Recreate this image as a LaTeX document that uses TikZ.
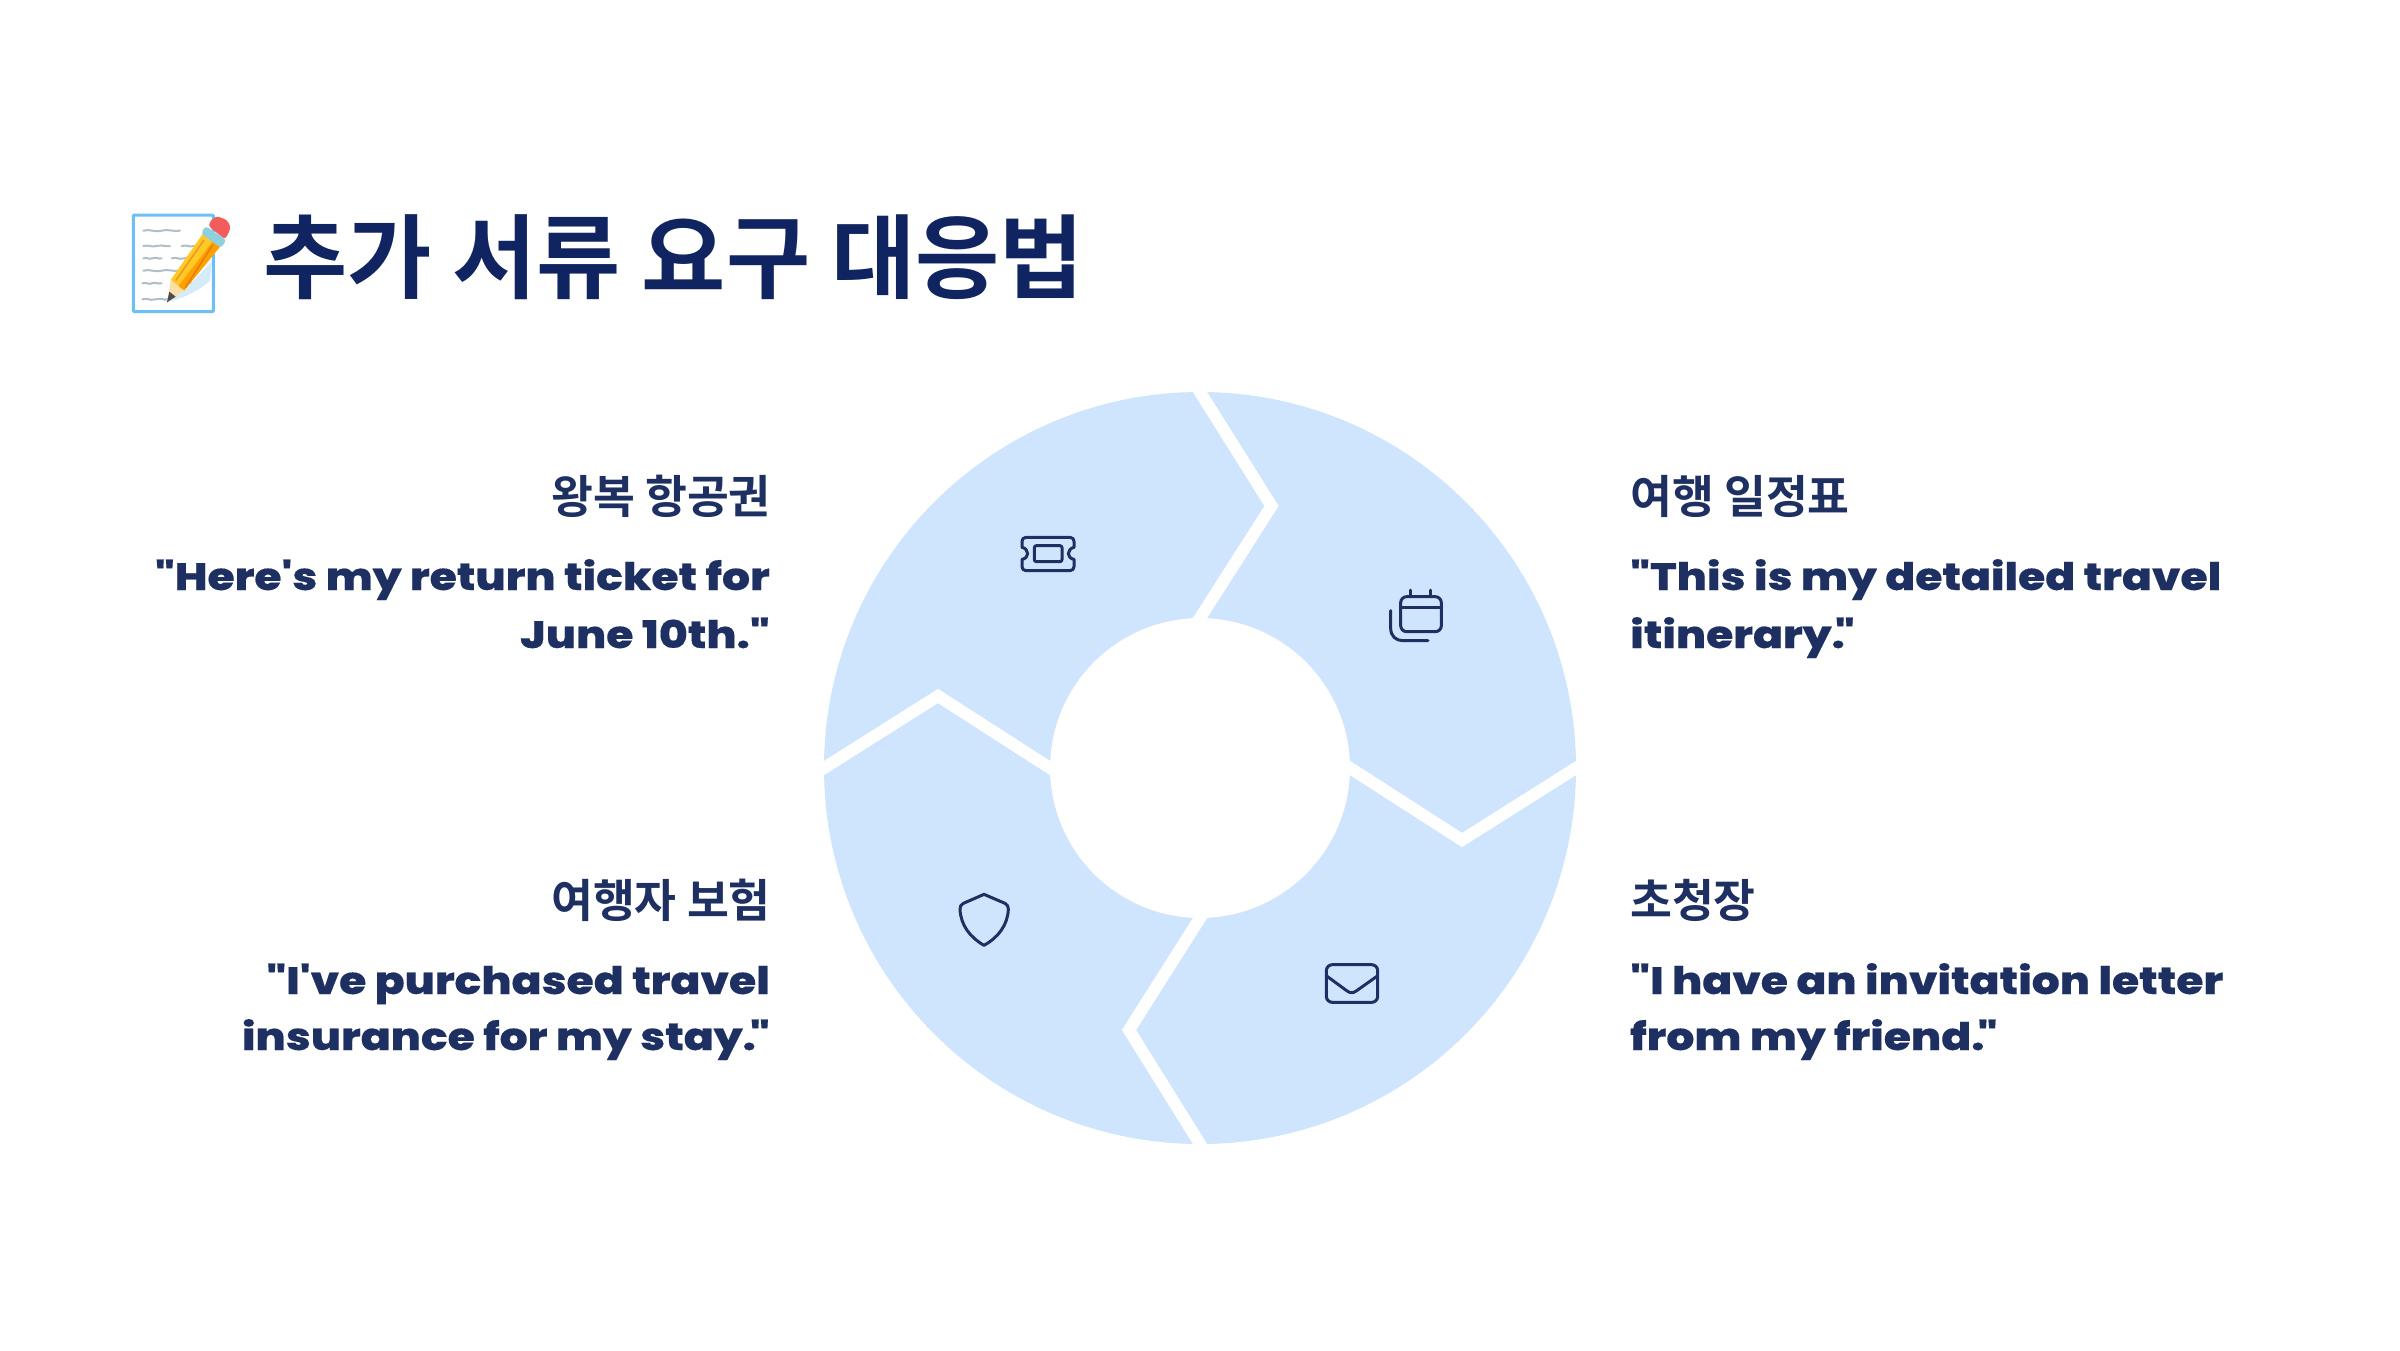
\documentclass[tikz,border=0pt]{standalone}
\usepackage{fontspec}
\newfontfamily\krh[UprightFont=* Bold]{Noto Sans CJK KR}
\newfontfamily\en[UprightFont=* ExtraBold,FakeStretch=1.16,FakeBold=0.3]{Poppins}
\definecolor{ring}{HTML}{CFE5FD}
\definecolor{ink}{HTML}{1E3062}
\definecolor{titleink}{HTML}{0F2460}
\tikzset{
  x=1pt,y=-1pt,
  head/.style={font=\krh\fontsize{45.5}{45.5}\selectfont,text=ink,inner sep=0pt},
  quoteL/.style={font=\en\fontsize{38}{38}\selectfont,text=ink,inner sep=0pt,anchor=base east},
  quoteR/.style={font=\en\fontsize{38}{38}\selectfont,text=ink,inner sep=0pt,anchor=base west},
  gap/.style={draw=white,line width=12pt,miter limit=10},
  icon/.style={draw=ink,line width=3pt,line cap=round,line join=round}
}
\begin{document}
\begin{tikzpicture}
\useasboundingbox (0,0) rectangle (2400,1350);
\fill[white] (0,0) rectangle (2400,1350);
% ring
\fill[ring,even odd rule] (1200,768) circle[radius=376] (1200,768) circle[radius=150];
\draw[gap] (1190,376) -- (1200,392) -- (1271.5,506) -- (1200,618) -- (1190,633);
\draw[gap] (808,778) -- (824,768) -- (938,696) -- (1050,768) -- (1066,778);
\draw[gap] (1334,758) -- (1350,768) -- (1462,840) -- (1576,768) -- (1592,758);
\draw[gap] (1210,903) -- (1200,918) -- (1129,1030) -- (1200,1144) -- (1210,1160);
% memo emoji
\begin{scope}[shift={(110,190)},x=1/3*1pt,y=-1/3*1pt]
\draw[draw={rgb,255:red,108;green,192;blue,245},line width=3pt,rounded corners=1pt,fill=white] (70,75) rectangle (310,365);
\foreach \a/\b/\c in {100/210/122,100/180/168,215/290/168,100/155/205,185/260/205,100/210/242,97/155/280,230/280/280,97/175/328}{
  \draw[color={rgb,255:red,176;green,190;blue,197},line width=2pt,line cap=round]
    (\a,\c) .. controls ({\a+(\b-\a)/4},{\c-5}) and ({\a+(\b-\a)/4},{\c+5}) .. ({(\a+\b)/2},\c) .. controls ({\b-(\b-\a)/4},{\c-5}) and ({\b-(\b-\a)/4},{\c+3}) .. (\b,\c);}
\fill[color={rgb,255:red,213;green,235;blue,250}] (305,215) -- (300,272) .. controls (270,300) and (220,325) .. (175,335) -- (222,302) -- cycle;
\fill[color={rgb,255:red,255;green,202;blue,40}] (278,132) -- (330,170) -- (222,302) -- (182,270) -- cycle;
\fill[color={rgb,255:red,255;green,160;blue,0}] (308,155) -- (330,170) -- (222,302) -- (205,288) -- cycle;
\draw[color={rgb,255:red,240;green,150;blue,30},line width=1.5pt] (282,150) -- (197,272);
\draw[color={rgb,255:red,225;green,125;blue,20},line width=1.5pt] (308,165) -- (226,293);
\fill[color={rgb,255:red,250;green,224;blue,168}] (182,270) -- (222,302) -- (172,336) -- cycle;
\fill[color={rgb,255:red,78;green,78;blue,78}] (178,305) -- (197,320) -- (171,337) -- cycle;
\fill[color={rgb,255:red,242;green,92;blue,92},rounded corners=3pt] (295,108) .. controls (305,85) and (320,78) .. (335,84) .. controls (352,90) and (362,105) .. (358,125) -- (345,148) -- cycle;
\fill[color={rgb,255:red,142;green,208;blue,224},rounded corners=3pt] (287,108) -- (349,150) -- (333,174) -- (273,130) -- cycle;
\end{scope}
% title
\node[font=\krh\fontsize{91.6}{91.6}\selectfont,text=titleink,inner sep=0pt,anchor=base west] (title) at (263,291) {추가 서류 요구 대응법};
% left labels
\node[head,anchor=base east] (h1) at (771,513) {왕복 항공권};
\node[quoteL] (q1a) at (770,590) {"Here's my return ticket for};
\node[quoteL] (q1b) at (770,648) {June 10th."};
\node[head,anchor=base east] (h2) at (771,917) {여행자 보험};
\node[quoteL] (q2a) at (770,994) {"I've purchased travel};
\node[quoteL] (q2b) at (770,1050) {insurance for my stay.\kern-6pt"};
% right labels
\node[head,anchor=base west] (h3) at (1630,513) {여행 일정표};
\node[quoteR] (q3a) at (1630,590) {"This is my detailed travel};
\node[quoteR] (q3b) at (1630,648) {itinerary.\kern-10pt"};
\node[head,anchor=base west] (h4) at (1630,917) {초청장};
\node[quoteR] (q4a) at (1630,994) {"I have an invitation letter};
\node[quoteR] (q4b) at (1630,1050) {from my friend.\kern-7pt"};
% ticket
\begin{scope}[shift={(1000,510)},x=1/3*1pt,y=-1/3*1pt]
\draw[icon] (78,82) -- (210,82) .. controls (218,82) and (222,88) .. (222,94) -- (222,112) .. controls (212,114) and (205,122) .. (205,131) .. controls (205,140) and (212,146) .. (222,148) -- (222,170) .. controls (222,176) and (218,182) .. (210,182) -- (78,182) .. controls (70,182) and (66,176) .. (66,170) -- (66,148) .. controls (76,146) and (83,140) .. (83,131) .. controls (83,122) and (76,114) .. (66,112) -- (66,94) .. controls (66,88) and (70,82) .. (78,82) -- cycle;
\draw[icon,rounded corners=2pt] (103,107) rectangle (186,155);
\end{scope}
% calendar
\begin{scope}[shift={(1370,570)},x=1/3*1pt,y=-1/3*1pt]
\draw[icon,rounded corners=6pt] (92,80) rectangle (214,185);
\draw[icon] (92,113) -- (214,113);
\draw[icon] (122,60) -- (122,80);
\draw[icon] (182,60) -- (182,80);
\draw[icon] (62,122) -- (62,175) .. controls (62,198) and (78,212) .. (98,212) -- (174,212);
\end{scope}
% shield
\begin{scope}[shift={(940,880)},x=1/3*1pt,y=-1/3*1pt]
\draw[icon] (132,43) -- (195,70) .. controls (203,74) and (205,80) .. (205,88) .. controls (203,135) and (175,172) .. (132,196) .. controls (90,172) and (62,135) .. (60,88) .. controls (60,80) and (62,74) .. (70,70) -- cycle;
\end{scope}
% mail
\begin{scope}[shift={(1300,950)},x=1/3*1pt,y=-1/3*1pt]
\draw[icon,rounded corners=6pt] (79,44) rectangle (233,157);
\draw[icon] (80,78) -- (140,122) .. controls (150,130) and (160,130) .. (170,122) -- (232,78);
\end{scope}
\end{tikzpicture}
\end{document}
